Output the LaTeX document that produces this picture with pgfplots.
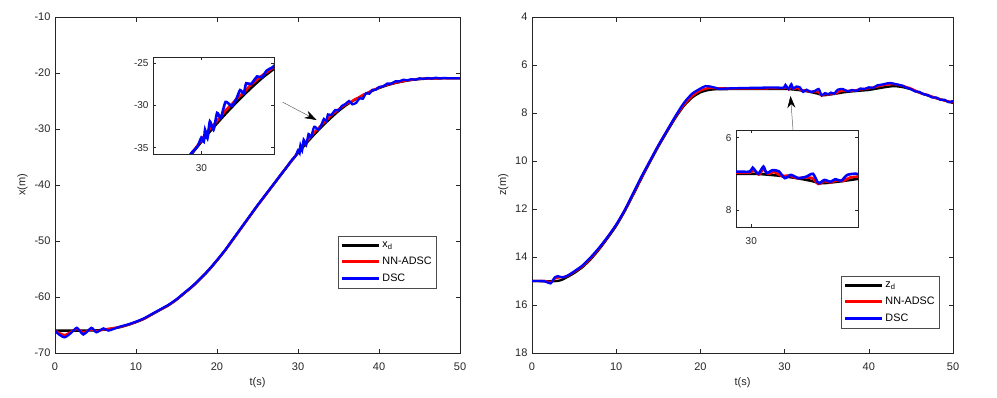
\documentclass[border=0pt]{standalone}
\usepackage{pgfplots}
\pgfplotsset{compat=1.18}
\usepackage{pgfplotstable}
\usepackage{fontspec}
\setmainfont{Liberation Sans}
\usetikzlibrary{arrows.meta}

% ---------- left: x(m) ----------
\pgfplotstableread{
t v
0 -66.0
3 -66.0
5 -65.95
6 -65.85
7 -65.65
8 -65.4
9 -65.0
10 -64.5
11 -63.9
12 -63.1
13 -62.3
14 -61.5
15 -60.5
16 -59.3
17 -58.1
18 -56.7
19 -55.2
20 -53.5
21 -51.7
22 -49.7
23 -47.7
24 -45.7
25 -43.7
26 -41.8
27 -39.9
28 -38.0
29 -36.1
30 -34.3
31 -32.6
32 -31.0
33 -29.5
34 -28.1
35 -26.8
36 -25.7
37 -24.8
38 -24.0
39 -23.3
40 -22.7
41 -22.2
42 -21.8
43 -21.5
44 -21.25
45 -21.1
46 -21.0
48 -20.95
50 -20.95
}\xdtab

\pgfplotstableread{
t v
0 -66.0
0.5 -66.4
1.2 -66.8
2.0 -66.2
2.7 -65.7
3.5 -66.3
4.5 -65.8
5.2 -66.1
6.0 -65.8
7 -65.6
8 -65.35
9 -64.95
10 -64.45
11 -63.85
12 -63.05
13 -62.25
14 -61.45
15 -60.45
16 -59.25
17 -58.05
18 -56.65
19 -55.15
20 -53.45
21 -51.65
22 -49.65
23 -47.65
24 -45.65
25 -43.65
26 -41.75
27 -39.85
28 -37.9
29 -36.0
29.5 -35.1
30 -34.1
30.5 -33.1
31 -32.3
31.5 -31.5
32 -30.6
32.5 -29.9
33 -29.1
33.5 -28.5
34 -27.7
34.5 -27.1
35 -26.5
35.5 -26.0
36 -25.5
36.5 -25.2
37 -24.7
37.5 -24.4
38 -23.9
38.5 -23.6
39 -23.2
39.5 -22.9
40 -22.6
41 -22.1
42 -21.75
43 -21.45
44 -21.2
45 -21.05
46 -20.98
48 -20.95
50 -20.95
}\xnntab

\pgfplotstableread{
t v
0 -66.0
0.5 -66.7
1.2 -67.2
2.0 -66.4
2.7 -65.5
3.5 -66.7
4.5 -65.5
5.1 -66.3
6.0 -65.6
6.6 -66.0
8 -65.3
9 -64.9
10 -64.4
11 -63.8
12 -63.0
13 -62.2
14 -61.4
15 -60.4
16 -59.2
17 -58.0
18 -56.6
19 -55.1
20 -53.4
21 -51.6
22 -49.6
23 -47.6
24 -45.6
25 -43.6
26 -41.7
27 -39.8
28 -37.9
28.6 -36.8
29.2 -35.6
29.7 -34.8
30.0 -33.8
30.2 -34.3
30.3 -32.9
30.5 -33.9
30.7 -31.9
31.0 -32.9
31.3 -30.9
31.6 -31.5
32.0 -29.6
32.5 -30.1
32.9 -29.2
33.2 -28.2
33.5 -28.6
33.7 -27.4
34.1 -27.5
34.6 -26.6
35.0 -26.7
35.4 -25.9
35.9 -25.5
36.3 -25.0
36.7 -25.6
37.2 -25.3
37.6 -24.5
38.0 -24.6
38.4 -23.6
38.8 -23.7
39.2 -23.0
39.6 -23.0
40.0 -22.5
40.5 -22.4
41 -21.9
41.5 -21.9
42 -21.5
42.5 -21.5
43 -21.2
43.5 -21.3
44 -21.1
44.5 -21.2
45 -20.95
45.5 -21.05
46 -20.9
46.5 -21.0
47 -20.85
47.5 -20.95
48 -20.9
49 -20.95
50 -20.95
}\xdsctab

% ---------- right: z(m) ----------
\pgfplotstableread{
t v
0 15.0
3 15.0
4 14.87
5 14.67
6 14.42
7 14.08
8 13.67
9 13.2
10 12.7
11 12.1
12 11.42
13 10.72
14 10.05
15 9.4
16 8.8
17 8.22
18 7.72
19 7.36
20 7.14
21 7.04
22 7.01
25 7.0
30 7.0
31 7.02
32 7.06
33 7.12
34 7.2
34.5 7.26
35 7.25
36 7.2
37 7.14
38 7.1
39 7.07
40 7.04
41 6.98
42 6.92
43 6.88
44 6.92
45 7.01
46 7.15
47 7.27
48 7.38
49 7.48
50 7.58
}\zdtab

\pgfplotstableread{
t v
0 15.0
1.5 15.0
2.2 15.05
2.7 14.9
3.2 14.85
4 14.82
5 14.62
6 14.38
7 14.04
8 13.63
9 13.16
10 12.66
11 12.06
12 11.38
13 10.68
14 10.01
15 9.36
16 8.76
17 8.18
18 7.68
19 7.3
20 7.06
21 6.96
22 6.97
25 6.98
29 6.97
29.9 6.97
30.2 6.9
30.5 7.02
30.8 6.88
31.1 7.0
31.5 6.95
32 7.06
32.5 7.05
33 7.12
33.5 7.1
34 7.12
34.4 7.28
34.8 7.2
35.2 7.24
35.6 7.18
36 7.2
36.5 7.1
37 7.08
38 7.07
39 7.02
40 6.97
41 6.9
42 6.82
43 6.8
44 6.87
45 6.98
46 7.15
47 7.25
48 7.38
49 7.48
50 7.55
}\znntab

\pgfplotstableread{
t v
0 15.0
1 15.0
1.6 15.02
2.2 15.1
2.7 14.85
3.1 14.8
3.6 14.85
4.2 14.78
5 14.6
6 14.35
7 14.0
8 13.6
9 13.15
10 12.65
11 12.05
12 11.35
13 10.65
14 10.0
15 9.35
16 8.75
17 8.15
18 7.6
19 7.2
20 6.98
20.6 6.88
21.2 6.9
21.8 6.95
22.3 7.0
23 6.98
25 6.96
28 6.94
29.0 6.94
29.9 6.94
30.1 6.83
30.45 7.0
30.8 6.8
31.0 6.98
31.4 6.9
31.8 6.93
32.2 7.12
32.6 7.03
33.1 7.12
33.6 7.08
34.05 7.0
34.4 7.26
34.8 7.17
35.2 7.22
35.5 7.15
35.9 7.19
36.3 7.03
36.9 7.0
37.5 7.1
38 7.04
38.5 7.08
39 6.98
39.5 7.0
40 6.93
40.5 6.95
41 6.85
41.5 6.82
42 6.78
42.5 6.75
43 6.78
43.5 6.82
44 6.86
44.5 6.95
45 7.0
45.5 7.1
46 7.12
46.5 7.22
47 7.25
47.5 7.35
48 7.35
48.5 7.45
49 7.45
49.5 7.55
50 7.5
}\zdsctab

\definecolor{axgray}{gray}{0.15}

\begin{document}
\begin{tikzpicture}
\useasboundingbox (0pt,0pt) rectangle (997pt,397pt);
\pgfplotsset{
  every axis/.append style={
    scale only axis,
    font=\fontsize{11}{13}\selectfont,
    axis line style={axgray, line width=0.6pt},
    tick style={axgray, line width=0.5pt},
    tick align=inside,
    major tick length=4.5pt,
    ticklabel style={color=axgray},
    xticklabel style={yshift=-6pt},
    yticklabel style={xshift=-1pt},
    label style={color=axgray},
    /pgf/number format/assume math mode=true,
    /pgf/number format/1000 sep={},
    legend image code/.code={\draw[#1, line width=2.6pt] (0pt,0pt) -- (37pt,0pt);},
  },
  lb/.style={black, line width=2.3pt, smooth, tension=0.4},
  lr/.style={red, line width=2.3pt, smooth, tension=0.4},
  lbl/.style={blue, line width=2.3pt, smooth, tension=0.4},
  legstyle/.style={legend style={anchor=south east, draw=black!70, line width=0.5pt,
      font=\fontsize{10.8}{12}\selectfont, cells={anchor=west},
      row sep=4pt, inner xsep=3pt, inner ysep=3pt}},
}

% ================= left main =================
\begin{axis}[at={(55pt,44pt)}, anchor=south west, width=405pt, height=336pt,
  xmin=0, xmax=50, ymin=-70, ymax=-10,
  xtick={0,10,...,50}, ytick={-70,-60,...,-10},
  xlabel={t(s)}, ylabel={x(m)},
  legstyle, legend style={at={(0.943,0.193)}}]
\addplot[lb] table[x=t,y=v] {\xdtab};
\addlegendentry{x\textsubscript{d}}
\addplot[lr] table[x=t,y=v] {\xnntab};
\addlegendentry{NN-ADSC}
\addplot[lbl] table[x=t,y=v] {\xdsctab};
\addlegendentry{DSC}
\draw[black!60, line width=0.5pt, -{Stealth[length=12pt,width=8pt,black]}]
  (axis cs:28.1,-25.2) -- (axis cs:32.3,-28.4);
\end{axis}

% ================= left inset =================
\begin{axis}[at={(153pt,243pt)}, anchor=south west, width=121pt, height=97pt,
  font=\fontsize{10}{12}\selectfont,
  xticklabel style={yshift=-1pt},
  axis background/.style={fill=white},
  major tick length=3pt,
  xmin=26, xmax=36, ymin=-35.75, ymax=-24.3,
  xtick={30}, ytick={-35,-30,-25}]
\addplot[lb, line width=2.6pt] table[x=t,y=v] {\xdtab};
\addplot[lr, line width=2.6pt] table[x=t,y=v] {\xnntab};
\addplot[lbl, line width=2.6pt] table[x=t,y=v] {\xdsctab};
\end{axis}

% ================= right main =================
\begin{axis}[at={(532pt,44pt)}, anchor=south west, width=421pt, height=336pt,
  xmin=0, xmax=50, ymin=4, ymax=18, y dir=reverse,
  xtick={0,10,...,50}, ytick={4,6,...,18},
  xlabel={t(s)}, ylabel={z(m)},
  legstyle, legend style={at={(0.969,0.074)}}]
\addplot[lb] table[x=t,y=v] {\zdtab};
\addlegendentry{z\textsubscript{d}}
\addplot[lr] table[x=t,y=v] {\znntab};
\addlegendentry{NN-ADSC}
\addplot[lbl] table[x=t,y=v] {\zdsctab};
\addlegendentry{DSC}
\draw[black!60, line width=0.5pt, -{Stealth[length=12pt,width=8pt,black]}]
  (axis cs:31.0,8.71) -- (axis cs:30.7,7.29);
\end{axis}

% ================= right inset =================
\begin{axis}[at={(736pt,170pt)}, anchor=south west, width=122pt, height=97pt,
  font=\fontsize{10}{12}\selectfont,
  xticklabel style={yshift=-1pt},
  axis background/.style={fill=white},
  major tick length=3pt,
  xmin=29, xmax=37, ymin=5.79, ymax=8.47, y dir=reverse,
  xtick={30}, ytick={6,8}]
\addplot[lb, line width=2.6pt] table[x=t,y=v] {\zdtab};
\addplot[lr, line width=2.6pt] table[x=t,y=v] {\znntab};
\addplot[lbl, line width=2.6pt] table[x=t,y=v] {\zdsctab};
\end{axis}
\end{tikzpicture}
\end{document}
